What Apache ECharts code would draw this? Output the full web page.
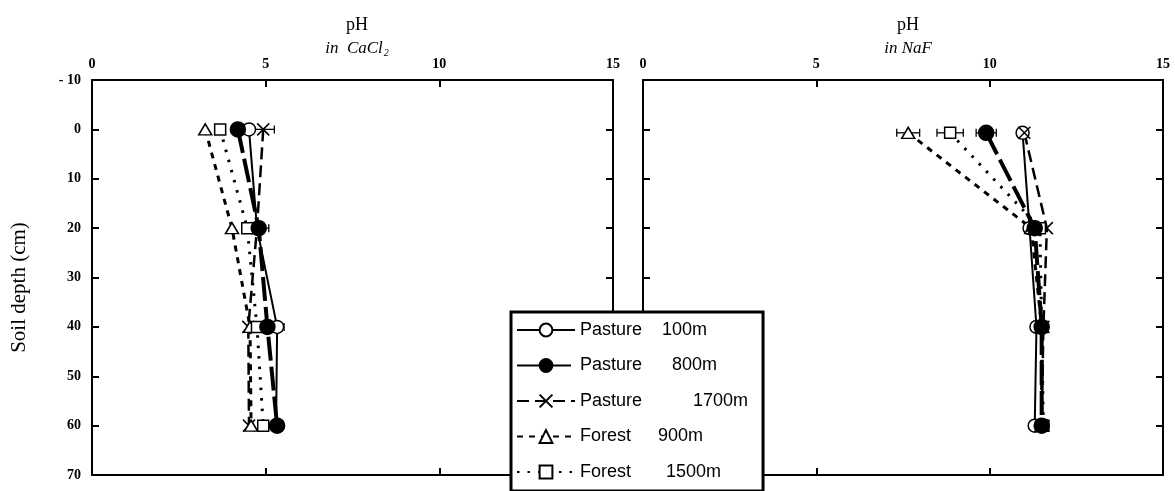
<!DOCTYPE html>
<html>
<head>
<meta charset="utf-8">
<script src="https://cdn.jsdelivr.net/npm/echarts@6/dist/echarts.min.js"></script>
<style>
  html, body { margin: 0; padding: 0; background: #fff; }
  #chart { width: 1175px; height: 491px; }
</style>
</head>
<body>
<div id="chart"></div>
<script>
// depth (cm) of the sampled layers
const depthCaCl2 = [0, 20, 40, 60]
const depthNaF = [0.7, 20, 40, 60]

// legend labels
const legendSites = ['Pasture', 'Pasture', 'Pasture', 'Forest', 'Forest']
const legendAlts = ['100m', '800m', '1700m', '900m', '1500m']

// pH in CaCl2
const cacl2Pasture100 = [4.52, 4.75, 5.33, 5.3]
const cacl2Pasture800 = [4.2, 4.8, 5.05, 5.33]
const cacl2Pasture1700 = [4.93, 4.75, 4.5, 4.52]
const cacl2Forest900 = [3.26, 4.03, 4.55, 4.58]
const cacl2Forest1500 = [3.69, 4.47, 4.75, 4.93]

// pH in NaF
const nafPasture100 = [10.95, 11.15, 11.35, 11.3]
const nafPasture800 = [9.9, 11.3, 11.5, 11.5]
const nafPasture1700 = [11.0, 11.65, 11.55, 11.5]
const nafForest900 = [7.65, 11.2, 11.5, 11.5]
const nafForest1500 = [8.86, 11.45, 11.5, 11.55]

// error bars: [pH, depth, half width]
const cacl2Errors = [[4.93, 0, 0.32], [4.8, 20, 0.29], [5.33, 40, 0.2]]
const nafErrors = [[7.65, 0.7, 0.33], [8.86, 0.7, 0.38], [9.9, 0.7, 0.29]]

const seriesNames = legendSites.map((s, i) => s + '  ' + legendAlts[i])

const serif = 'Liberation Serif'
const sans = 'Liberation Sans'

// 每条线的样式
const styles = [
  { symbol: 'circle', symbolSize: 13, fill: '#fff', width: 2, type: 'solid' },
  { symbol: 'circle', symbolSize: 15, fill: '#000', width: 4, type: [24, 6] },
  { symbol: 'path://M0,0L10,10M10,0L0,10', symbolSize: 12, fill: '#fff', width: 2.5, type: [12, 6] },
  { symbol: 'triangle', symbolSize: [13, 11], fill: '#fff', width: 3, type: [6, 6] },
  { symbol: 'rect', symbolSize: 11, fill: '#fff', width: 3, type: [2.5, 8] },
]

function pairs(xs, depths) {
  return xs.map((x, i) => [x, depths[i]])
}

function lineSeries(idx, values, depths, axis) {
  const s = styles[idx]
  return {
    name: seriesNames[idx],
    type: 'line',
    xAxisIndex: axis * 2,
    yAxisIndex: axis * 2,
    data: pairs(values, depths),
    symbol: s.symbol,
    symbolSize: s.symbolSize,
    showAllSymbol: true,
    z: idx === 1 ? 4 : 3,
    lineStyle: { color: '#000', width: s.width, type: s.type, cap: 'butt' },
    itemStyle: { color: s.fill, borderColor: '#000', borderWidth: 1.5 },
    emphasis: { disabled: true },
    animation: false,
  }
}

function errorSeries(data, axis) {
  return {
    type: 'custom',
    xAxisIndex: axis * 2,
    yAxisIndex: axis * 2,
    data: data,
    encode: { x: 0, y: 1 },
    z: 2,
    silent: true,
    renderItem: (params, api) => {
      const x = api.value(0)
      const y = api.value(1)
      const e = api.value(2)
      const lo = api.coord([x - e, y])
      const hi = api.coord([x + e, y])
      const h = 4
      const st = { stroke: '#000', lineWidth: 1.3 }
      return {
        type: 'group',
        children: [
          { type: 'line', shape: { x1: lo[0], y1: lo[1], x2: hi[0], y2: hi[1] }, style: st },
          { type: 'line', shape: { x1: lo[0], y1: lo[1] - h, x2: lo[0], y2: lo[1] + h }, style: st },
          { type: 'line', shape: { x1: hi[0], y1: hi[1] - h, x2: hi[0], y2: hi[1] + h }, style: st },
        ],
      }
    },
  }
}

const axisLine = { show: true, onZero: false, lineStyle: { color: '#000', width: 2 } }
const axisTick = { show: true, inside: true, length: 7, lineStyle: { color: '#000', width: 2 } }
const tickFont = { fontFamily: serif, fontWeight: 'bold', fontSize: 14, color: '#000' }

function xAxes(grid) {
  return [
    {
      type: 'value', gridIndex: grid, position: 'top', min: 0, max: 15, interval: 5,
      axisLine, axisTick, splitLine: { show: false },
      axisLabel: { ...tickFont, margin: 9 },
    },
    {
      type: 'value', gridIndex: grid, position: 'bottom', min: 0, max: 15, interval: 5,
      axisLine, axisTick, splitLine: { show: false }, axisLabel: { show: false },
    },
  ]
}

function yAxes(grid, withLabels) {
  return [
    {
      type: 'value', gridIndex: grid, position: 'left', inverse: true, min: -10, max: 70, interval: 10,
      axisLine, axisTick, splitLine: { show: false },
      axisLabel: withLabels
        ? { ...tickFont, margin: 11, formatter: v => (v < 0 ? '- ' + Math.abs(v) : String(v)) }
        : { show: false },
      name: withLabels ? 'Soil depth (cm)' : '',
      nameLocation: 'middle',
      nameGap: 62,
      nameRotate: 90,
      nameTextStyle: { fontFamily: serif, fontSize: 21, color: '#000', padding: [0, 20, 0, 0] },
    },
    {
      type: 'value', gridIndex: grid, position: 'right', inverse: true, min: -10, max: 70, interval: 10,
      axisLine, axisTick, splitLine: { show: false }, axisLabel: { show: false },
    },
  ]
}

const legendFont = { fontFamily: sans, fontSize: 18, lineHeight: 17, color: '#000' }
const legendRich = {
  w0: { width: 82, ...legendFont },
  w1: { width: 92, ...legendFont },
  w2: { width: 113, ...legendFont },
  w3: { width: 78, ...legendFont },
  w4: { width: 86, ...legendFont },
  v: { ...legendFont },
}

const chart = echarts.init(document.getElementById('chart'), null, { renderer: 'canvas' })

const option = {
  animation: false,
  backgroundColor: '#fff',
  title: [
    { text: 'pH', left: 352, top: 11, textAlign: 'center',
      textStyle: { fontFamily: serif, fontSize: 18, fontWeight: 'normal', color: '#000' } },
    { text: '{i|in  CaCl}{s|2}', left: 352, top: 35, textAlign: 'center',
      textStyle: { fontWeight: 'normal', rich: {
        i: { fontFamily: serif, fontStyle: 'italic', fontWeight: 'normal', fontSize: 17, color: '#000' },
        s: { fontFamily: serif, fontStyle: 'italic', fontWeight: 'normal', fontSize: 10, color: '#000', padding: [8, 0, 0, 1] },
      } } },
    { text: 'pH', left: 903, top: 11, textAlign: 'center',
      textStyle: { fontFamily: serif, fontSize: 18, fontWeight: 'normal', color: '#000' } },
    { text: 'in NaF', left: 903, top: 35, textAlign: 'center',
      textStyle: { fontFamily: serif, fontStyle: 'italic', fontSize: 17, fontWeight: 'normal', color: '#000' } },
  ],
  grid: [
    { left: 92, top: 80, width: 521, height: 395, containLabel: false },
    { left: 643, top: 80, width: 520, height: 395, containLabel: false },
  ],
  xAxis: [...xAxes(0), ...xAxes(1)],
  yAxis: [...yAxes(0, true), ...yAxes(1, false)],
  legend: {
    data: seriesNames,
    orient: 'vertical',
    left: 511,
    top: 312,
    backgroundColor: '#fff',
    borderColor: '#000',
    borderWidth: 3,
    borderRadius: 0,
    padding: [9, 15, 10, 5],
    itemGap: 17.5,
    itemWidth: 58,
    itemHeight: 16,
    selectedMode: false,
    z: 10,
    textStyle: { ...legendFont, rich: legendRich },
    formatter: name => {
      const i = seriesNames.indexOf(name)
      return `{w${i}|${legendSites[i]}}{v|${legendAlts[i]}}`
    },
  },
  series: [
    errorSeries(cacl2Errors, 0),
    errorSeries(nafErrors, 1),
    lineSeries(0, cacl2Pasture100, depthCaCl2, 0),
    lineSeries(1, cacl2Pasture800, depthCaCl2, 0),
    lineSeries(2, cacl2Pasture1700, depthCaCl2, 0),
    lineSeries(3, cacl2Forest900, depthCaCl2, 0),
    lineSeries(4, cacl2Forest1500, depthCaCl2, 0),
    lineSeries(0, nafPasture100, depthNaF, 1),
    lineSeries(1, nafPasture800, depthNaF, 1),
    lineSeries(2, nafPasture1700, depthNaF, 1),
    lineSeries(3, nafForest900, depthNaF, 1),
    lineSeries(4, nafForest1500, depthNaF, 1),
  ],
}

chart.setOption(option)
</script>
</body>
</html>
